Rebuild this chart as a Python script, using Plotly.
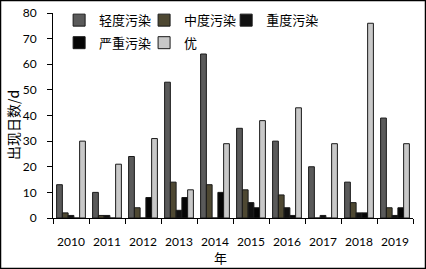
import plotly.graph_objects as go

years = ["2010", "2011", "2012", "2013", "2014", "2015", "2016", "2017", "2018", "2019"]
light_pol = [13, 10, 24, 53, 64, 35, 30, 20, 14, 39]
moderate_pol = [2, 1, 4, 14, 13, 11, 9, 0, 6, 4]
heavy_pol = [1, 1, 0, 3, 0, 6, 4, 1, 2, 1]
severe_pol = [0, 0, 8, 8, 10, 4, 1, 0, 2, 4]
excellent = [30, 21, 31, 11, 29, 38, 43, 29, 76, 29]

series = [
    ("轻度污染", light_pol, "#5a5a5a", "legend"),
    ("中度污染", moderate_pol, "#4e4832", "legend2"),
    ("重度污染", heavy_pol, "#111111", "legend3"),
    ("严重污染", severe_pol, "#050505", "legend4"),
    ("优", excellent, "#c8c8c8", "legend5"),
]

fig = go.Figure()
for name, vals, color, leg in series:
    fig.add_trace(go.Bar(
        x=years, y=vals, name=name, legend=leg,
        marker=dict(color=color, line=dict(color="#1a1a1a", width=1)),
    ))

tick_font = dict(family="Lato, Liberation Sans, sans-serif", size=12, color="#000")
cjk_font = dict(family="Noto Sans CJK SC", size=13, color="#000")

leg_common = dict(orientation="h", xanchor="left", yanchor="middle", font=cjk_font,
                  bgcolor="rgba(0,0,0,0)")

fig.update_layout(
    width=426, height=269,
    margin=dict(l=53, r=13, t=13, b=51, autoexpand=False),
    paper_bgcolor="white", plot_bgcolor="white",
    barmode="group", bargap=0.2, bargroupgap=0,
    showlegend=True,
    legend=dict(x=0.017, y=0.965, **leg_common),
    legend2=dict(x=0.253, y=0.965, **leg_common),
    legend3=dict(x=0.481, y=0.965, **leg_common),
    legend4=dict(x=0.017, y=0.855, **leg_common),
    legend5=dict(x=0.253, y=0.855, **leg_common),
    xaxis=dict(
        showline=True, linecolor="#000", linewidth=1,
        ticks="outside", ticklen=5, tickcolor="#000", tickson="boundaries",
        tickfont=tick_font, ticklabelstandoff=13, tickangle=0, automargin=False,
        showgrid=False, zeroline=False,
    ),
    yaxis=dict(
        range=[0, 80], dtick=10,
        showline=True, linecolor="#000", linewidth=1,
        ticks="outside", ticklen=5, tickcolor="#000", automargin=False,
        tickfont=tick_font, ticklabelstandoff=8,
        showgrid=False, zeroline=False,
    ),
    annotations=[
        dict(text="出现日数/d", xref="paper", yref="paper", x=-0.111, y=0.454,
             xanchor="center", yanchor="middle", textangle=-90, showarrow=False,
             font=dict(family="Noto Sans CJK SC", size=14, color="#000")),
        dict(text="年", xref="paper", yref="paper", x=0.464, y=-0.195,
             xanchor="center", yanchor="middle", showarrow=False,
             font=dict(family="Noto Sans CJK SC", size=13, color="#000")),
    ],
    shapes=[dict(type="rect", xref="paper", yref="paper",
                 x0=-52.5/360, x1=1 + 12.5/360, y0=-50.5/205, y1=1 + 12.5/205,
                 line=dict(color="#000", width=1.5), layer="above")],
)

fig.write_html("out.html", config={"displayModeBar": False},
               post_script="document.body.style.margin='0';document.body.style.overflow='hidden';")
